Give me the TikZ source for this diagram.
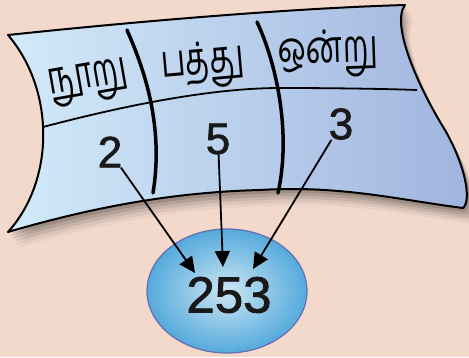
\documentclass[tikz,border=0pt]{standalone}
\usepackage{fontspec}
\setmainfont{Liberation Sans}
\newfontfamily\digitfont[FakeBold=1.6]{Liberation Sans}
\newfontfamily\tamil[Script=Tamil]{Hind Madurai}
\usetikzlibrary{arrows.meta,shapes.geometric}
\definecolor{bg}{RGB}{242,217,204}
\definecolor{sheetL}{RGB}{210,234,249}
\definecolor{sheetR}{RGB}{160,180,222}
\definecolor{ballIn}{RGB}{205,230,244}
\definecolor{ballOut}{RGB}{85,170,220}
\definecolor{ballEdge}{RGB}{100,110,176}
\tikzset{
  divider/.style={line width=3.5pt, line cap=round},
  label/.style={font=\tamil\fontsize{31}{31}\selectfont, inner sep=0pt},
  digit/.style={font=\digitfont\fontsize{44}{44}\selectfont, inner sep=0pt, text=black!90},
  pointer/.style={line width=1.8pt, -{Triangle[length=16pt,width=15pt]}},
}
\newcommand{\tallT}[1]{\scalebox{1}[1.45]{#1}}
\begin{document}
\begin{tikzpicture}[x=1pt,y=-1pt]
\useasboundingbox (0,0) rectangle (469,357);
\fill[bg] (0,0) rectangle (469,357);
% shadow
\foreach \o/\a in {16/0.04,13/0.06,10/0.08,7/0.10,4/0.12}{
\begin{scope}[shift={(\o*0.6,\o)}]
\fill[black,opacity=\a] (8,35) .. controls (150,20) and (300,8) .. (405,5)
  .. controls (390,25) and (420,90) .. (445,130) .. controls (465,165) and (472,200) .. (463,208)
  .. controls (400,200) and (340,185) .. (260,190) .. controls (180,192) and (100,205) .. (8,232)
  .. controls (55,180) and (55,90) .. (8,35) -- cycle;
\end{scope}
}
% sheet
\path[left color=sheetL, right color=sheetR, draw=black, line width=2pt, line join=round]
  (8,35) .. controls (150,20) and (300,8) .. (405,5)
  .. controls (390,25) and (420,90) .. (445,130) .. controls (465,165) and (472,200) .. (463,208)
  .. controls (400,200) and (340,185) .. (260,190) .. controls (180,192) and (100,205) .. (8,232)
  .. controls (55,180) and (55,90) .. (8,35) -- cycle;
% row line
\draw[line width=1.8pt] (43,127) .. controls (100,112) and (200,88) .. (280,88) .. controls (340,88) and (390,89) .. (417,90);
% dividers
\draw[divider] (127,30) .. controls (140,60) and (165,120) .. (153,193);
\draw[divider] (257,22) .. controls (275,60) and (292,130) .. (278,193);
% labels
\node[label, rotate=10] (h) at (89,83) {\tallT{நூறு}};
\node[label, rotate=5] (t) at (203,65) {\tallT{பத்து}};
\node[label, rotate=2] (o) at (328,54) {\tallT{ஒன்று}};
\node[digit] (n2) at (110,152) {2};
\node[digit] (n5) at (218,139) {5};
\node[digit] (n3) at (341,124) {3};
% ball
\node[ellipse, minimum width=160pt, minimum height=124pt, inner color=ballIn, outer color=ballOut, draw=ballEdge, line width=1.2pt] (res) at (227,291) {};
\node[font=\digitfont\fontsize{51}{51}\selectfont, inner sep=0pt, text=black!90] (num) at (229,295) {253};
\coordinate (e2) at (195,273);
\coordinate (e5) at (223,267);
\coordinate (e3) at (253,269);
\draw[pointer] (n2) -- (e2);
\draw[pointer] (n5) -- (e5);
\draw[pointer] (n3) -- (e3);
\end{tikzpicture}
\end{document}
